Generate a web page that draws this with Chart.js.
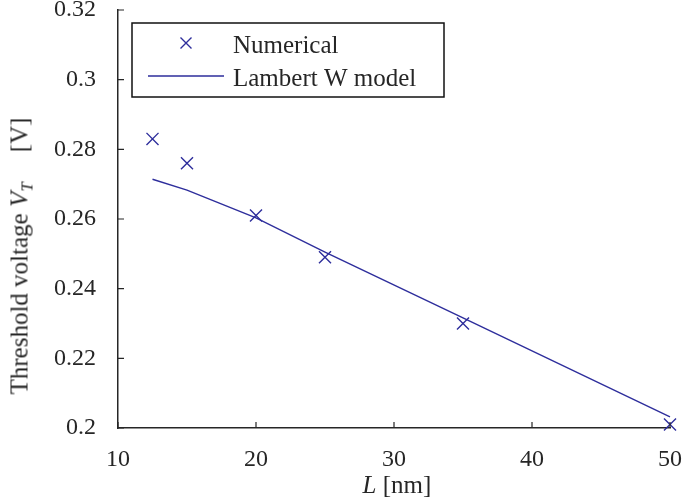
<!DOCTYPE html>
<html>
<head>
<meta charset="utf-8">
<script src="https://cdn.jsdelivr.net/npm/chart.js@4.4.0/dist/chart.umd.min.js"></script>
<style>
  body { margin: 0; background: #fff; }
  #wrap { position: relative; width: 682px; height: 504px; }
  .ttl { position: absolute; font-family: "Liberation Serif", serif; font-size: 25px; line-height: 1; color: #262626; white-space: nowrap; }
  #ytitle { left: 21px; top: 256px; transform: translate(-50%, -50%) rotate(-90deg); }
  #xtitle { left: 397px; top: 484px; transform: translate(-50%, -50%); }
  sub { font-size: 17px; vertical-align: -5px; }
</style>
</head>
<body>
<div id="wrap">
  <canvas id="myChart" width="682" height="504"></canvas>
  <div class="ttl" id="ytitle">Threshold voltage <i>V</i><sub><i>T</i></sub><span style="margin-left:30px">[V]</span></div>
  <div class="ttl" id="xtitle"><i>L</i> [nm]</div>
</div>
<script>
// data
var lengths = [12.5, 15, 20, 25, 35, 50];
var vtNumerical = [0.283, 0.276, 0.261, 0.249, 0.230, 0.201];
var vtLambert = [0.2714, 0.2683, 0.2603, 0.2505, 0.2316, 0.2032];
var xTicks = [10, 20, 30, 40, 50];
var yTicks = [0.2, 0.22, 0.24, 0.26, 0.28, 0.3, 0.32];

var blue = '#2e2e9c';
var axisColor = '#262626';
var serif = "'Liberation Serif', 'DejaVu Serif', serif";

Chart.defaults.font.family = serif;
Chart.defaults.font.size = 24;
Chart.defaults.color = axisColor;

function toPoints(xs, ys) {
  return xs.map(function (x, i) { return { x: x, y: ys[i] }; });
}

// inward tick marks + legend box inside the plot
var extras = {
  id: 'extras',
  afterDraw: function (chart) {
    var ctx = chart.ctx;
    var area = chart.chartArea;
    var xs = chart.scales.x, ys = chart.scales.y;
    ctx.save();
    ctx.strokeStyle = axisColor;
    ctx.lineWidth = 1.2;
    ctx.beginPath();
    xTicks.forEach(function (v) {
      var px = xs.getPixelForValue(v);
      ctx.moveTo(px, area.bottom);
      ctx.lineTo(px, area.bottom - 6);
    });
    yTicks.forEach(function (v) {
      var py = ys.getPixelForValue(v);
      ctx.moveTo(area.left, py);
      ctx.lineTo(area.left + 6, py);
    });
    ctx.stroke();

    // legend
    var lx = area.left + 14, ly = area.top + 13;
    ctx.fillStyle = '#fff';
    ctx.fillRect(lx, ly, 312, 74);
    ctx.strokeStyle = '#111';
    ctx.lineWidth = 1.5;
    ctx.strokeRect(lx, ly, 312, 74);

    ctx.strokeStyle = blue;
    ctx.lineWidth = 1.4;
    ctx.beginPath();
    ctx.moveTo(lx + 48.5, ly + 14.5);
    ctx.lineTo(lx + 59.5, ly + 25.5);
    ctx.moveTo(lx + 59.5, ly + 14.5);
    ctx.lineTo(lx + 48.5, ly + 25.5);
    ctx.moveTo(lx + 16, ly + 53);
    ctx.lineTo(lx + 92, ly + 53);
    ctx.stroke();

    ctx.fillStyle = axisColor;
    ctx.font = '25px ' + serif;
    ctx.textBaseline = 'alphabetic';
    ctx.textAlign = 'left';
    ctx.fillText('Numerical', lx + 101, ly + 30);
    ctx.fillText('Lambert W model', lx + 101, ly + 63);
    ctx.restore();
  }
};

var ctx = document.getElementById('myChart').getContext('2d');
var myChart = new Chart(ctx, {
  type: 'scatter',
  data: {
    datasets: [{
      label: 'Numerical',
      data: toPoints(lengths, vtNumerical),
      showLine: false,
      pointStyle: 'crossRot',
      pointRadius: 8.5,
      pointHoverRadius: 8.5,
      pointBorderWidth: 1.4,
      borderColor: blue,
      backgroundColor: blue,
      clip: false
    }, {
      label: 'Lambert W model',
      type: 'line',
      data: toPoints(lengths, vtLambert),
      borderColor: blue,
      borderWidth: 1.4,
      pointRadius: 0,
      tension: 0,
      fill: false,
      clip: false
    }]
  },
  options: {
    responsive: false,
    animation: false,
    layout: { padding: { top: 10, right: 12, left: 0, bottom: 0 } },
    plugins: {
      legend: { display: false },
      tooltip: { enabled: false }
    },
    scales: {
      x: {
        type: 'linear',
        min: 10,
        max: 50,
        grid: { display: false },
        border: { display: true, color: axisColor, width: 1.5 },
        afterBuildTicks: function (s) { s.ticks = xTicks.map(function (v) { return { value: v }; }); },
        afterFit: function (s) { s.height = 76; s.paddingLeft = 0; s.paddingRight = 0; },
        ticks: {
          padding: 9,
          color: axisColor,
          font: { family: serif, size: 24 },
          maxRotation: 0
        }
      },
      y: {
        min: 0.2,
        max: 0.32,
        grid: { display: false },
        border: { display: true, color: axisColor, width: 1.5 },
        afterBuildTicks: function (s) { s.ticks = yTicks.map(function (v) { return { value: v }; }); },
        afterFit: function (s) { s.width = 118; s.paddingTop = 0; s.paddingBottom = 0; },
        ticks: {
          padding: 14,
          color: axisColor,
          font: { family: serif, size: 24 },
          callback: function (v) { return String(Number(v.toFixed(2))); }
        }
      }
    }
  },
  plugins: [extras]
});
</script>
</body>
</html>
